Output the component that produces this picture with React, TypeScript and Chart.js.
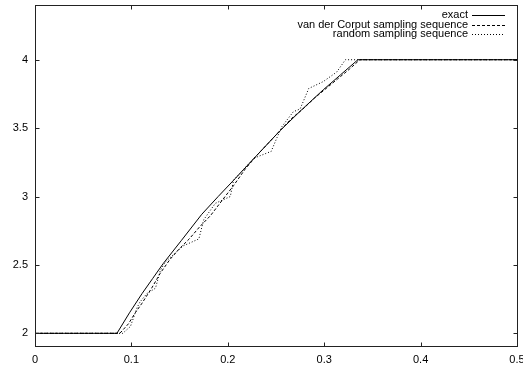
import React, { useEffect, useRef } from 'react';
import { Chart, registerables } from 'chart.js';

Chart.register(...registerables);

const xTicks = [0, 0.1, 0.2, 0.3, 0.4, 0.5];
const yTicks = [2, 2.5, 3, 3.5, 4];
const xRange = [0, 0.5];
const yRange = [1.9, 4.4];

const seriesLabels = ['exact', 'van der Corput sampling sequence', 'random sampling sequence'];

const exactX = [0, 0.085, 0.098, 0.111, 0.122, 0.133, 0.152, 0.173, 0.19, 0.2075, 0.23, 0.254, 0.276, 0.299, 0.317, 0.335, 0.5];
const exactY = [2, 2, 2.15, 2.29, 2.4, 2.51, 2.68, 2.87, 3.0, 3.13, 3.3, 3.48, 3.63, 3.78, 3.89, 4, 4];

const vdcX = [0, 0.088, 0.097, 0.104, 0.111, 0.121, 0.13, 0.14, 0.15, 0.16, 0.171, 0.182, 0.195, 0.206, 0.218, 0.23, 0.242, 0.254, 0.266, 0.278, 0.29, 0.302, 0.314, 0.326, 0.337, 0.5];
const vdcY = [2, 2, 2.07, 2.15, 2.22, 2.33, 2.44, 2.54, 2.62, 2.69, 2.78, 2.86, 2.98, 3.08, 3.2, 3.3, 3.39, 3.48, 3.57, 3.64, 3.72, 3.79, 3.86, 3.93, 4, 4];

const randX = [0, 0.091, 0.099, 0.106, 0.109, 0.116, 0.125, 0.13, 0.135, 0.149, 0.154, 0.17, 0.175, 0.182, 0.187, 0.2026, 0.206, 0.227, 0.245, 0.251, 0.256, 0.268, 0.275, 0.284, 0.299, 0.313, 0.322, 0.5];
const randY = [2, 2, 2.05, 2.19, 2.23, 2.29, 2.33, 2.46, 2.52, 2.61, 2.64, 2.69, 2.83, 2.9, 2.95, 3.0, 3.12, 3.28, 3.33, 3.43, 3.51, 3.62, 3.64, 3.79, 3.84, 3.91, 4, 4];

const FONT = "'Liberation Sans', Arial, sans-serif";

const toPoints = (xs: number[], ys: number[]) => xs.map((x, i) => ({ x, y: ys[i] }));

const framePlugin = {
  id: 'gnuplotFrame',
  afterDraw(chart: any) {
    const { ctx, chartArea } = chart;
    const { left, right, top, bottom } = chartArea;
    const xs = chart.scales.x;
    const ys = chart.scales.y;
    ctx.save();
    ctx.strokeStyle = '#222';
    ctx.lineWidth = 1;
    ctx.setLineDash([]);
    const L = Math.round(left) + 0.5;
    const R = Math.round(right) + 0.5;
    const T = Math.round(top) + 0.5;
    const B = Math.round(bottom) - 0.5;
    ctx.strokeRect(L, T, R - L, B - T);
    const tl = 4;
    ctx.beginPath();
    xTicks.forEach((v) => {
      const px = Math.round(xs.getPixelForValue(v)) + 0.5;
      ctx.moveTo(px, B);
      ctx.lineTo(px, B - tl);
      ctx.moveTo(px, T);
      ctx.lineTo(px, T + tl);
    });
    yTicks.forEach((v) => {
      const py = Math.round(ys.getPixelForValue(v)) + 0.5;
      ctx.moveTo(L, py);
      ctx.lineTo(L + tl, py);
      ctx.moveTo(R, py);
      ctx.lineTo(R - tl, py);
    });
    ctx.stroke();

    // key (legend), gnuplot style: right-aligned text then line sample
    const textRight = 468;
    const sampleL = 472;
    const sampleR = 505;
    const y0 = 15;
    const dy = 9.7;
    ctx.font = `11px ${FONT}`;
    ctx.textAlign = 'right';
    ctx.textBaseline = 'middle';
    ctx.fillStyle = '#000';
    chart.data.datasets.forEach((ds: any, i: number) => {
      const y = y0 + i * dy;
      ctx.fillText(ds.label, textRight, y);
      ctx.beginPath();
      ctx.strokeStyle = ds.borderColor;
      ctx.lineWidth = ds.borderWidth;
      ctx.setLineDash(ds.borderDash || []);
      const yy = Math.round(y) + 0.5;
      ctx.moveTo(sampleL, yy);
      ctx.lineTo(sampleR, yy);
      ctx.stroke();
    });
    ctx.restore();
  },
};

export default function App() {
  const canvasRef = useRef<HTMLCanvasElement | null>(null);

  useEffect(() => {
    const canvas = canvasRef.current;
    if (!canvas) return;
    const chart = new Chart(canvas, {
      type: 'line',
      data: {
        datasets: [
          {
            label: seriesLabels[0],
            data: toPoints(exactX, exactY),
            borderColor: '#000',
            borderWidth: 1,
            pointRadius: 0,
            fill: false,
            tension: 0,
          },
          {
            label: seriesLabels[1],
            data: toPoints(vdcX, vdcY),
            borderColor: '#000',
            borderWidth: 1,
            borderDash: [3, 2],
            pointRadius: 0,
            fill: false,
            tension: 0,
          },
          {
            label: seriesLabels[2],
            data: toPoints(randX, randY),
            borderColor: '#000',
            borderWidth: 1,
            borderDash: [1, 2],
            pointRadius: 0,
            fill: false,
            tension: 0,
          },
        ],
      },
      options: {
        responsive: false,
        animation: false,
        devicePixelRatio: 1,
        layout: { padding: { top: 5, right: 6, left: 0, bottom: 0 } },
        plugins: {
          legend: { display: false },
          tooltip: { enabled: false },
        },
        scales: {
          x: {
            type: 'linear',
            min: xRange[0],
            max: xRange[1],
            grid: { display: false, drawTicks: false },
            border: { display: false },
            afterBuildTicks: (scale: any) => {
              scale.ticks = xTicks.map((v) => ({ value: v }));
            },
            afterFit: (scale: any) => {
              scale.height = 19;
              scale.paddingLeft = 0;
              scale.paddingRight = 0;
            },
            ticks: {
              color: '#000',
              font: { family: FONT, size: 11 },
              padding: 6,
              maxRotation: 0,
              autoSkip: false,
              callback: (v: any) => String(v),
            },
          },
          y: {
            type: 'linear',
            min: yRange[0],
            max: yRange[1],
            grid: { display: false, drawTicks: false },
            border: { display: false },
            afterBuildTicks: (scale: any) => {
              scale.ticks = yTicks.map((v) => ({ value: v }));
            },
            afterFit: (scale: any) => {
              scale.width = 35;
              scale.paddingTop = 0;
              scale.paddingBottom = 0;
            },
            ticks: {
              color: '#000',
              font: { family: FONT, size: 11 },
              padding: 7,
              autoSkip: false,
              callback: (v: any) => String(v),
            },
          },
        },
      },
      plugins: [framePlugin],
    } as any);
    return () => chart.destroy();
  }, []);

  return (
    <div style={{ position: 'fixed', left: 0, top: 0, width: 523, height: 366, background: '#fff' }}>
      <canvas ref={canvasRef} width={523} height={366} style={{ display: 'block', width: 523, height: 366 }} />
    </div>
  );
}
